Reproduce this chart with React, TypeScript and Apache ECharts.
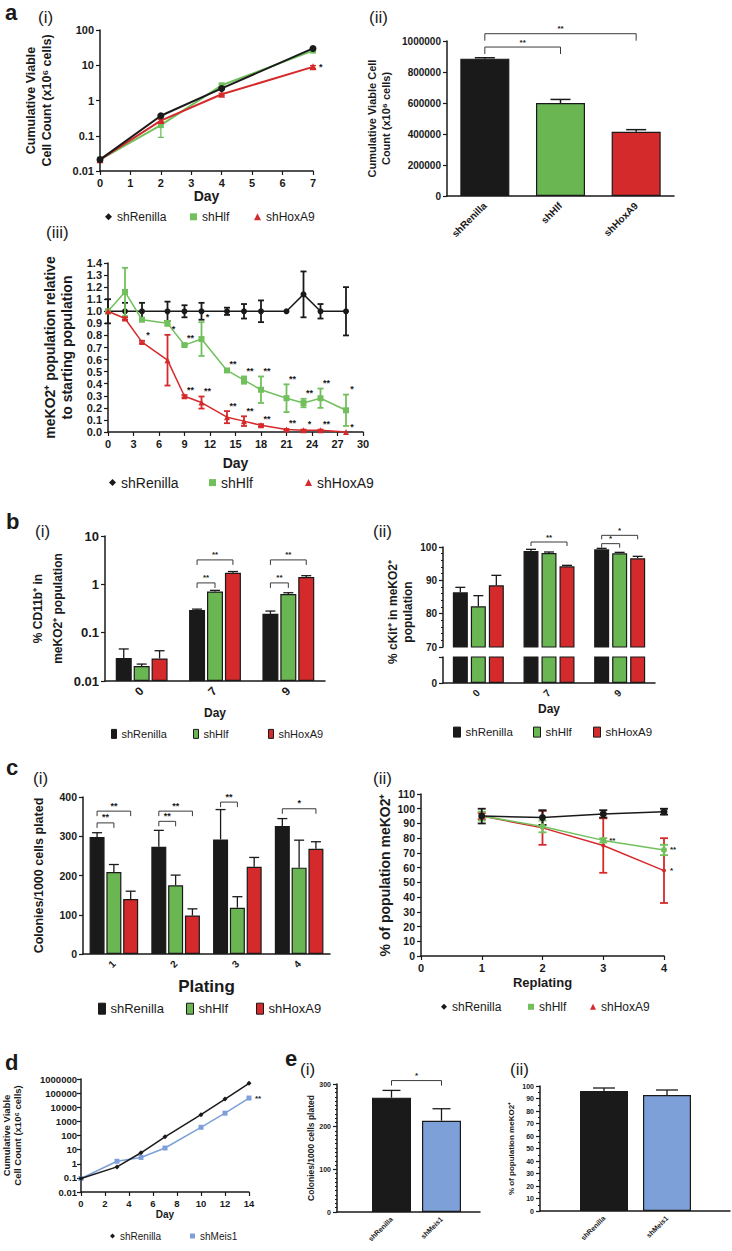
import React, { useEffect, useRef } from "react";
import * as echarts from "echarts";

const FONT = '"Liberation Sans", Arial, Helvetica, sans-serif';
const INK = "#1a1a1a";
const GREEN = "#6ab653";
const LGREEN = "#72c05d";
const RED = "#d52a2c";
const BLUE = "#7ea0d8";

// ---------- a(i) ----------
const aiDays = [0, 2, 4, 7];
const aiRenilla = [0.021, 0.37, 2.2, 30];
const aiRenillaErr = [0, 0.02, 0.1, 1.5];
const aiHlf = [0.021, 0.2, 2.7, 26];
const aiHlfErr = [0, 0.11, 0.3, 1.5];
const aiHoxA9 = [0.021, 0.27, 1.5, 9];
const aiHoxA9Err = [0, 0.02, 0.1, 0.8];
const aiHoxA9Stars = ["", "", "", "*"];

// ---------- a(ii) ----------
const aiiGroups = ["shRenilla", "shHlf", "shHoxA9"];
const aiiValues = [886000, 600000, 415000];
const aiiErr = [6000, 23000, 13000];
const aiiBrackets: any[] = [
  [0, 0, 1, 0, 961000, "**"],
  [0, 0, 2, 0, 1047000, "**"],
];

// ---------- a(iii) ----------
const aiiiDays = [0, 2, 4, 7, 9, 11, 14, 16, 18, 21, 23, 25, 28];
const aiiiRenilla = [1, 1, 1, 1, 1, 1, 1, 1, 1, 1, 1.14, 1, 1];
const aiiiRenillaErr = [0.1, 0.07, 0.07, 0.08, 0.05, 0.07, 0.03, 0.06, 0.09, 0, 0.19, 0.06, 0.2];
const aiiiHlf = [1, 1.16, 0.93, 0.9, 0.72, 0.77, 0.51, 0.43, 0.35, 0.28, 0.24, 0.28, 0.18];
const aiiiHlfErr = [0, 0.2, 0.01, 0.02, 0.01, 0.14, 0.01, 0.03, 0.11, 0.115, 0.035, 0.08, 0.13];
const aiiiHlfStars = ["", "", "", "", "**", "*", "**", "**", "**", "**", "**", "**", "*"];
const aiiiHoxA9 = [1, 0.94, 0.745, 0.595, 0.296, 0.244, 0.123, 0.09, 0.055, 0.02, 0.015, 0.015, 0.0];
const aiiiHoxA9Err = [0, 0.01, 0.01, 0.21, 0.01, 0.05, 0.05, 0.04, 0.01, 0.005, 0.005, 0.005, 0];
const aiiiHoxA9Stars = ["", "", "*", "*", "**", "**", "**", "**", "**", "**", "*", "**", "*"];

// ---------- b(i) ----------
const biDays = ["0", "7", "9"];
const biRenilla = [0.03, 0.295, 0.245];
const biRenillaErr = [0.016, 0.012, 0.035];
const biHlf = [0.0204, 0.71, 0.63];
const biHlfErr = [0.002, 0.04, 0.04];
const biHoxA9 = [0.0293, 1.74, 1.41];
const biHoxA9Err = [0.013, 0.1, 0.1];
const biBrackets: any[] = [
  [1, 0, 1, 1, 1.07, "**"],
  [1, 0, 1, 2, 3.2, "**"],
  [2, 0, 2, 1, 1.07, "**"],
  [2, 0, 2, 2, 3.2, "**"],
];

// ---------- b(ii) ----------
const biiDays = ["0", "7", "9"];
const biiRenilla = [86.4, 98.8, 99.3];
const biiRenillaErr = [1.5, 0.5, 0.3];
const biiHlf = [82.2, 98.2, 98.1];
const biiHlfErr = [3.2, 0.3, 0.3];
const biiHoxA9 = [88.5, 94.2, 96.6];
const biiHoxA9Err = [3, 0.3, 0.6];
const biiBrackets: any[] = [
  [1, 0, 1, 2, 101.5, "**"],
  [2, 0, 2, 1, 101, "*"],
  [2, 0, 2, 2, 103.5, "*"],
];

// ---------- c(i) ----------
const ciPlating = ["1", "2", "3", "4"];
const ciRenilla = [298, 273, 292, 326];
const ciRenillaErr = [11, 42, 76, 19];
const ciHlf = [209, 175, 118, 220];
const ciHlfErr = [19, 26, 28, 70];
const ciHoxA9 = [140, 98, 222, 268];
const ciHoxA9Err = [20, 17, 24, 18];
const ciBrackets: any[] = [
  [0, 0, 0, 1, 334, "**"],
  [0, 0, 0, 2, 364, "**"],
  [1, 0, 1, 1, 338, "**"],
  [1, 0, 1, 2, 364, "**"],
  [2, 0, 2, 1, 387, "**"],
  [3, 0, 3, 2, 370, "*"],
];

// ---------- c(ii) ----------
const ciiReplating = [1, 2, 3, 4];
const ciiRenilla = [95, 94, 96.5, 98];
const ciiRenillaErr = [5, 5, 2.5, 2];
const ciiHlf = [95, 88, 78.5, 72];
const ciiHlfErr = [3, 4, 1.5, 3.5];
const ciiHlfStars = ["", "", "**", "**"];
const ciiHoxA9 = [95, 87, 75, 58];
const ciiHoxA9Err = [2, 11.5, 18.5, 22];
const ciiHoxA9Stars = ["", "", "", "*"];

// ---------- d ----------
const dDays = [0, 3, 5, 7, 10, 12, 14];
const dRenilla = [0.09, 0.6, 6, 80, 3000, 38000, 500000];
const dMeis1 = [0.09, 1.5, 2.8, 13, 380, 3800, 45000];
const dMeis1Stars = ["", "", "", "", "", "", "**"];

// ---------- e ----------
const eGroups = ["shRenilla", "shMeis1"];
const eiValues = [268, 214];
const eiErr = [17, 28];
const eiBrackets: any[] = [[0, 0, 1, 0, 308, "*"]];
const eiiValues = [96, 92.8];
const eiiErr = [2.4, 4];

// ---------------- helpers ----------------
function merge(a: any, b: any): any {
  const out: any = { ...a };
  for (const k of Object.keys(b)) {
    const v = b[k];
    if (v && typeof v === "object" && !Array.isArray(v) && a[k] && typeof a[k] === "object" && !Array.isArray(a[k])) {
      out[k] = merge(a[k], v);
    } else out[k] = v;
  }
  return out;
}
const axis = (grid: number, o: any) =>
  merge(
    {
      gridIndex: grid,
      axisLine: { show: true, lineStyle: { color: INK, width: 1.5 } },
      axisTick: { show: true, length: 4, lineStyle: { color: INK, width: 1.2 } },
      axisLabel: { fontFamily: FONT, fontWeight: "bold", fontSize: 10, color: INK, margin: 6 },
      splitLine: { show: false },
      nameLocation: "middle",
      nameTextStyle: { fontFamily: FONT, fontWeight: "bold", fontSize: 12, color: INK },
    },
    o
  );
const fmtNum = (v: number) => String(Number(Number(v).toPrecision(6)));
const offs = (n: number, bw: number, gap: number) =>
  Array.from({ length: n }, (_, i) => (i - (n - 1) / 2) * bw * (1 + gap));

const line = (name: string, grid: number, xs: number[], ys: number[], color: string, symbol: string, size: number, width: number, z = 3) => ({
  type: "line",
  name,
  xAxisIndex: grid,
  yAxisIndex: grid,
  data: xs.map((x, i) => [x, ys[i]]),
  symbol,
  symbolSize: size,
  showSymbol: true,
  clip: false,
  z,
  lineStyle: { color, width },
  itemStyle: { color, borderWidth: 0 },
  emphasis: { disabled: true },
});

const bar = (name: string, grid: number, vals: any[], color: string, bw: number, gap: number) => ({
  type: "bar",
  name,
  xAxisIndex: grid,
  yAxisIndex: grid,
  data: vals,
  barWidth: bw,
  barGap: `${gap * 100}%`,
  clip: true,
  itemStyle: { color, borderColor: INK, borderWidth: 1.2 },
  emphasis: { disabled: true },
});

const err = (grid: number, xs: number[], ys: number[], es: number[], color: string, o: any = {}) => ({
  type: "custom",
  xAxisIndex: grid,
  yAxisIndex: grid,
  silent: true,
  clip: false,
  z: o.z ?? 4,
  data: xs.map((x, i) => [x, ys[i]]),
  renderItem: (params: any, api: any) => {
    const i = params.dataIndex;
    const x = xs[i], y = ys[i], e = es[i];
    if (!e) return null;
    const p = api.coord([x, y]);
    const hi = api.coord([x, y + e]);
    const lo = o.both ? api.coord([x, y - e > 0 ? y - e : y * 0.5]) : p;
    const px = p[0] + (o.off ?? 0);
    const cap = o.cap ?? 3;
    const w = o.w ?? 1.3;
    const st = { stroke: color, lineWidth: w };
    const ch: any[] = [
      { type: "line", shape: { x1: px, y1: lo[1], x2: px, y2: hi[1] }, style: st },
      { type: "line", shape: { x1: px - cap, y1: hi[1], x2: px + cap, y2: hi[1] }, style: st },
    ];
    if (o.both) ch.push({ type: "line", shape: { x1: px - cap, y1: lo[1], x2: px + cap, y2: lo[1] }, style: st });
    return { type: "group", children: ch };
  },
});

const brackets = (grid: number, items: any[], off: number[], tick: number, size: number) => ({
  type: "custom",
  xAxisIndex: grid,
  yAxisIndex: grid,
  silent: true,
  clip: false,
  z: 6,
  data: items.map((b) => [b[0], b[4]]),
  renderItem: (params: any, api: any) => {
    const b = items[params.dataIndex];
    const p1 = api.coord([b[0], b[4]]);
    const p2 = api.coord([b[2], b[4]]);
    const x1 = p1[0] + off[b[1]];
    const x2 = p2[0] + off[b[3]];
    const y = p1[1];
    return {
      type: "group",
      children: [
        { type: "polyline", shape: { points: [[x1, y + tick], [x1, y], [x2, y], [x2, y + tick]] }, style: { stroke: "#3a3a3a", lineWidth: 1, fill: null } },
        { type: "text", x: (x1 + x2) / 2, y: y - 1, style: { text: b[5], fill: INK, font: `bold ${size}px ${FONT}`, align: "center", verticalAlign: "bottom" } },
      ],
    };
  },
});

const stars = (grid: number, xs: number[], ys: number[], es: number[] | null, labels: string[], mode: string, size: number, dx = 0) => ({
  type: "custom",
  xAxisIndex: grid,
  yAxisIndex: grid,
  silent: true,
  clip: false,
  z: 8,
  data: xs.map((x, i) => [x, ys[i]]),
  renderItem: (params: any, api: any) => {
    const i = params.dataIndex;
    const t = labels[i];
    if (!t) return null;
    const e = es ? es[i] : 0;
    const top = mode === "top";
    const p = api.coord([xs[i], ys[i] + (top ? e : 0)]);
    return {
      type: "text",
      x: p[0] + (top ? 4 + dx : 6 + dx),
      y: p[1] + (top ? -1 : 0),
      style: { text: t, fill: INK, font: `bold ${size}px ${FONT}`, align: top ? "center" : "left", verticalAlign: top ? "bottom" : "middle" },
    };
  },
});

const legendItem = (name: string, icon: string, left: number, cy: number, size: number, iw: number, ih: number) => ({
  show: true,
  left,
  top: cy - Math.max(ih, size * 1.2) / 2,
  padding: 0,
  itemWidth: iw,
  itemHeight: ih,
  symbolKeepAspect: false,
  selectedMode: false,
  itemStyle: { borderWidth: 1 },
  data: [{ name, icon }],
  formatter: (n: string) => n.split("|")[0],
  textStyle: { fontFamily: FONT, fontSize: size, color: INK },
});

const T = (text: string, x: number, y: number, size: number, weight = "normal") => ({
  type: "text",
  x,
  y,
  style: { text, font: `${weight} ${size}px ${FONT}`, fill: INK, verticalAlign: "middle" },
});

function buildOption(): any {
  const grids = [
    { left: 100, top: 30, width: 213, height: 141 },
    { left: 447, top: 41, width: 227, height: 155 },
    { left: 108, top: 263, width: 255, height: 169 },
    { left: 105, top: 536, width: 220, height: 145 },
    { left: 443, top: 547, width: 212, height: 100 },
    { left: 443, top: 657, width: 212, height: 26 },
    { left: 83, top: 797, width: 247, height: 157 },
    { left: 421, top: 794, width: 243, height: 162 },
    { left: 81, top: 1079, width: 168, height: 113 },
    { left: 337, top: 1084, width: 143, height: 128 },
    { left: 366.5, top: 1084, width: 100, height: 128 },
    { left: 540, top: 1086, width: 190, height: 125 },
    { left: 572.5, top: 1086, width: 126, height: 125 },
  ];

  const noTick = { axisTick: { show: false } };
  const xAxis = [
    axis(0, { type: "value", min: 0, max: 7, interval: 1, axisLabel: { fontSize: 11 }, name: "Day", nameGap: 16, nameTextStyle: { fontSize: 14 } }),
    axis(1, { type: "category", data: aiiGroups, ...noTick, axisLabel: { rotate: 45, fontSize: 10, margin: 8 } }),
    axis(2, { type: "value", min: 0, max: 30, interval: 3, axisLabel: { fontSize: 11 }, name: "Day", nameGap: 24, nameTextStyle: { fontSize: 14 } }),
    axis(3, { type: "category", data: biDays, ...noTick, axisLabel: { rotate: 45, fontSize: 12, margin: 8 }, name: "Day", nameGap: 26, nameTextStyle: { fontSize: 12 } }),
    axis(4, { type: "category", data: biiDays, axisLine: { show: false }, ...noTick, axisLabel: { show: false } }),
    axis(5, { type: "category", data: biiDays, ...noTick, axisLabel: { rotate: 45, fontSize: 10, margin: 8 }, name: "Day", nameGap: 20, nameTextStyle: { fontSize: 12 } }),
    axis(6, { type: "category", data: ciPlating, ...noTick, axisLabel: { rotate: 45, fontSize: 10, margin: 8 }, name: "Plating", nameGap: 24, nameTextStyle: { fontSize: 17 } }),
    axis(7, { type: "value", min: 0, max: 4, interval: 1, axisLabel: { fontSize: 11 }, name: "Replating", nameGap: 20, nameTextStyle: { fontSize: 13 } }),
    axis(8, { type: "value", min: 0, max: 14, interval: 2, axisLabel: { fontSize: 9.5 }, name: "Day", nameGap: 17, nameTextStyle: { fontSize: 10 } }),
    axis(9, { type: "value", min: 0, max: 1, ...noTick, axisLabel: { show: false } }),
    axis(10, { type: "category", data: eGroups, axisLine: { show: false }, ...noTick, axisLabel: { rotate: 45, fontSize: 7, margin: 6 } }),
    axis(11, { type: "value", min: 0, max: 1, ...noTick, axisLabel: { show: false } }),
    axis(12, { type: "category", data: eGroups, axisLine: { show: false }, ...noTick, axisLabel: { rotate: 45, fontSize: 7, margin: 6 } }),
  ];

  const yAxis = [
    axis(0, { type: "log", logBase: 10, min: 0.01, max: 100, splitNumber: 10, axisLabel: { fontSize: 11, formatter: fmtNum }, name: "Cumulative Viable\nCell Count (x10⁶ cells)", nameRotate: 90, nameGap: 45, nameTextStyle: { fontSize: 12.5, lineHeight: 16 } }),
    axis(1, { type: "value", min: 0, max: 1000000, interval: 200000, axisLabel: { fontSize: 10, formatter: fmtNum }, name: "Cumulative Viable Cell\nCount (x10⁶ cells)", nameRotate: 90, nameGap: 54, nameTextStyle: { fontSize: 11, lineHeight: 14 } }),
    axis(2, { type: "value", min: 0, max: 1.4, interval: 0.1, axisLabel: { fontSize: 11, formatter: (v: number) => v.toFixed(1) }, name: "meKO2⁺ population relative\nto starting population", nameRotate: 90, nameGap: 33, nameTextStyle: { fontSize: 14, lineHeight: 17 } }),
    axis(3, { type: "log", logBase: 10, min: 0.01, max: 10, startValue: 0.01, splitNumber: 10, axisLabel: { fontSize: 13, formatter: fmtNum }, name: "% CD11b⁺ in\nmeKO2⁺ population", nameRotate: 90, nameGap: 37, nameTextStyle: { fontSize: 12, lineHeight: 20 } }),
    axis(4, { type: "value", min: 70, max: 100, interval: 10, axisLabel: { fontSize: 10 }, minorTick: { show: true, splitNumber: 5, length: 2, lineStyle: { color: INK } } }),
    axis(5, { type: "value", min: 0, max: 60, interval: 60, axisLabel: { fontSize: 10, formatter: (v: number) => (v === 0 ? "0" : "") } }),
    axis(6, { type: "value", min: 0, max: 400, interval: 100, axisLabel: { fontSize: 10.5 }, name: "Colonies/1000 cells plated", nameRotate: 90, nameGap: 38, nameTextStyle: { fontSize: 12.5 } }),
    axis(7, { type: "value", min: 0, max: 110, interval: 10, axisLabel: { fontSize: 10.5 }, name: "% of population meKO2⁺", nameRotate: 90, nameGap: 29, nameTextStyle: { fontSize: 14 } }),
    axis(8, { type: "log", logBase: 10, min: 0.01, max: 1000000, splitNumber: 10, axisLabel: { fontSize: 9.5, formatter: fmtNum, margin: 4 }, name: "Cumulative Viable\nCell Count (x10⁶ cells)", nameRotate: 90, nameGap: 58, nameTextStyle: { fontSize: 9.5, lineHeight: 11 } }),
    axis(9, { type: "value", min: 0, max: 300, interval: 100, axisLabel: { fontSize: 7 }, minorTick: { show: true, splitNumber: 10, length: 2, lineStyle: { color: INK } }, name: "Colonies/1000 cells plated", nameRotate: 90, nameGap: 19, nameTextStyle: { fontSize: 8.5 } }),
    axis(10, { type: "value", min: 0, max: 300, show: false }),
    axis(11, { type: "value", min: 0, max: 100, interval: 10, axisLabel: { fontSize: 7 }, minorTick: { show: true, splitNumber: 2, length: 2, lineStyle: { color: INK } }, name: "% of population meKO2⁺", nameRotate: 90, nameGap: 25, nameTextStyle: { fontSize: 8 } }),
    axis(12, { type: "value", min: 0, max: 100, show: false }),
  ];

  const cat3 = [0, 1, 2];
  const cat4 = [0, 1, 2, 3];
  const cat2 = [0, 1];
  const oBi = offs(3, 16, 0.12);
  const oBii = offs(3, 15, 0.2);
  const oCi = offs(3, 15, 0.12);

  const series: any[] = [
    // a(i)
    line("shHlf|ai", 0, aiDays, aiHlf, LGREEN, "rect", 6, 2, 3),
    line("shHoxA9|ai", 0, aiDays, aiHoxA9, RED, "triangle", 7, 2, 4),
    line("shRenilla|ai", 0, aiDays, aiRenilla, INK, "circle", 7, 2, 5),
    err(0, aiDays, aiHlf, aiHlfErr, LGREEN, { both: true, cap: 3 }),
    err(0, aiDays, aiRenilla, aiRenillaErr, INK, { both: true, cap: 3 }),
    err(0, aiDays, aiHoxA9, aiHoxA9Err, RED, { both: true, cap: 3 }),
    stars(0, aiDays, aiHoxA9, null, aiHoxA9Stars, "right", 9),

    // a(ii)
    bar("a2", 1, aiiValues.map((v, i) => ({ value: v, itemStyle: { color: [INK, GREEN, RED][i] } })), INK, 49, 0.1),
    err(1, cat3, aiiValues, aiiErr, INK, { cap: 10, w: 1.5 }),
    brackets(1, aiiBrackets, [0], 7, 8),

    // a(iii)
    line("shRenilla|aiii", 2, aiiiDays, aiiiRenilla, INK, "circle", 6, 1.5, 3),
    line("shHlf|aiii", 2, aiiiDays, aiiiHlf, LGREEN, "rect", 6, 1.5, 4),
    line("shHoxA9|aiii", 2, aiiiDays, aiiiHoxA9, RED, "triangle", 6, 1.5, 5),
    err(2, aiiiDays, aiiiRenilla, aiiiRenillaErr, INK, { both: true, cap: 3, w: 1.8 }),
    err(2, aiiiDays, aiiiHlf, aiiiHlfErr, LGREEN, { both: true, cap: 3, w: 1.8 }),
    err(2, aiiiDays, aiiiHoxA9, aiiiHoxA9Err, RED, { both: true, cap: 3, w: 1.8 }),
    stars(2, aiiiDays, aiiiHlf, aiiiHlfErr, aiiiHlfStars, "top", 9, 2),
    stars(2, aiiiDays, aiiiHoxA9, aiiiHoxA9Err, aiiiHoxA9Stars, "top", 9, 2),

    // b(i)
    bar("shRenilla|bi", 3, biRenilla, INK, 16, 0.12),
    bar("shHlf|bi", 3, biHlf, GREEN, 16, 0.12),
    bar("shHoxA9|bi", 3, biHoxA9, RED, 16, 0.12),
    err(3, cat3, biRenilla, biRenillaErr, INK, { off: oBi[0], cap: 5 }),
    err(3, cat3, biHlf, biHlfErr, INK, { off: oBi[1], cap: 5 }),
    err(3, cat3, biHoxA9, biHoxA9Err, INK, { off: oBi[2], cap: 5 }),
    brackets(3, biBrackets, oBi, 5, 8),

    // b(ii) upper
    bar("shRenilla|bii", 4, biiRenilla, INK, 15, 0.2),
    bar("shHlf|bii", 4, biiHlf, GREEN, 15, 0.2),
    bar("shHoxA9|bii", 4, biiHoxA9, RED, 15, 0.2),
    err(4, cat3, biiRenilla, biiRenillaErr, INK, { off: oBii[0], cap: 5 }),
    err(4, cat3, biiHlf, biiHlfErr, INK, { off: oBii[1], cap: 5 }),
    err(4, cat3, biiHoxA9, biiHoxA9Err, INK, { off: oBii[2], cap: 5 }),
    brackets(4, biiBrackets, oBii, 4, 8),
    // b(ii) lower
    bar("shRenilla|bii2", 5, biiRenilla, INK, 15, 0.2),
    bar("shHlf|bii2", 5, biiHlf, GREEN, 15, 0.2),
    bar("shHoxA9|bii2", 5, biiHoxA9, RED, 15, 0.2),

    // c(i)
    bar("shRenilla|ci", 6, ciRenilla, INK, 15, 0.12),
    bar("shHlf|ci", 6, ciHlf, GREEN, 15, 0.12),
    bar("shHoxA9|ci", 6, ciHoxA9, RED, 15, 0.12),
    err(6, cat4, ciRenilla, ciRenillaErr, INK, { off: oCi[0], cap: 5 }),
    err(6, cat4, ciHlf, ciHlfErr, INK, { off: oCi[1], cap: 5 }),
    err(6, cat4, ciHoxA9, ciHoxA9Err, INK, { off: oCi[2], cap: 5 }),
    brackets(6, ciBrackets, oCi, 5, 9),

    // c(ii)
    line("shRenilla|cii", 7, ciiReplating, ciiRenilla, INK, "circle", 7, 1.5, 5),
    line("shHlf|cii", 7, ciiReplating, ciiHlf, LGREEN, "circle", 6, 1.5, 4),
    line("shHoxA9|cii", 7, ciiReplating, ciiHoxA9, RED, "circle", 4, 1.5, 3),
    err(7, ciiReplating, ciiHoxA9, ciiHoxA9Err, RED, { both: true, cap: 4, w: 1.8 }),
    err(7, ciiReplating, ciiHlf, ciiHlfErr, LGREEN, { both: true, cap: 4, w: 1.8 }),
    err(7, ciiReplating, ciiRenilla, ciiRenillaErr, INK, { both: true, cap: 4, w: 1.8 }),
    stars(7, ciiReplating, ciiHlf, null, ciiHlfStars, "right", 8),
    stars(7, ciiReplating, ciiHoxA9, null, ciiHoxA9Stars, "right", 8),

    // d
    line("shRenilla|d", 8, dDays, dRenilla, INK, "diamond", 5, 1.5, 4),
    line("shMeis1|d", 8, dDays, dMeis1, BLUE, "rect", 5, 1.5, 3),
    stars(8, dDays, dMeis1, null, dMeis1Stars, "right", 8),

    // e(i)
    bar("e1", 10, eiValues.map((v, i) => ({ value: v, itemStyle: { color: [INK, BLUE][i] } })), INK, 39, 0.1),
    err(10, cat2, eiValues, eiErr, INK, { cap: 9, w: 1.3 }),
    brackets(10, eiBrackets, [0], 5, 8),

    // e(ii)
    bar("e2", 12, eiiValues.map((v, i) => ({ value: v, itemStyle: { color: [INK, BLUE][i] } })), INK, 48, 0.1),
    err(12, cat2, eiiValues, eiiErr, INK, { cap: 11, w: 1.3 }),
  ];

  const legend = [
    legendItem("shRenilla|ai", "diamond", 105, 218, 12, 7, 7),
    legendItem("shHlf|ai", "rect", 190, 218, 12, 7, 7),
    legendItem("shHoxA9|ai", "triangle", 254, 218, 12, 7, 7),
    legendItem("shRenilla|aiii", "diamond", 109, 484, 14, 7, 7),
    legendItem("shHlf|aiii", "rect", 209, 484, 14, 7, 7),
    legendItem("shHoxA9|aiii", "triangle", 305, 484, 14, 7, 7),
    legendItem("shRenilla|bi", "rect", 111, 735, 11, 5, 9),
    legendItem("shHlf|bi", "rect", 193, 735, 11, 5, 9),
    legendItem("shHoxA9|bi", "rect", 268, 735, 11, 5, 9),
    legendItem("shRenilla|bii", "rect", 453, 733, 11.5, 7, 10),
    legendItem("shHlf|bii", "rect", 533, 733, 11.5, 7, 10),
    legendItem("shHoxA9|bii", "rect", 593, 733, 11.5, 7, 10),
    legendItem("shRenilla|ci", "rect", 98, 1010, 13, 7, 11),
    legendItem("shHlf|ci", "rect", 186, 1010, 13, 7, 11),
    legendItem("shHoxA9|ci", "rect", 256, 1010, 13, 7, 11),
    legendItem("shRenilla|cii", "diamond", 441, 1008, 12, 6, 6),
    legendItem("shHlf|cii", "rect", 528, 1008, 12, 6, 6),
    legendItem("shHoxA9|cii", "triangle", 590, 1008, 12, 6, 6),
    legendItem("shRenilla|d", "diamond", 110, 1237, 10, 5, 5),
    legendItem("shMeis1|d", "rect", 190, 1237, 10, 5, 5),
  ];

  const graphic = [
    T("a", 5, 12, 22, "bold"),
    T("(i)", 38, 17, 17),
    T("(ii)", 369, 17, 17),
    T("(iii)", 46, 232, 17),
    T("b", 6, 521, 22, "bold"),
    T("(i)", 35, 531, 17),
    T("(ii)", 373, 531, 17),
    T("c", 6, 767, 22, "bold"),
    T("(i)", 33, 778, 17),
    T("(ii)", 373, 778, 17),
    T("d", 5, 1062, 22, "bold"),
    T("e", 285, 1058, 22, "bold"),
    T("(i)", 300, 1069, 17),
    T("(ii)", 510, 1069, 17),
    {
      type: "text",
      x: 400,
      y: 612,
      rotation: Math.PI / 2,
      style: { text: "% cKit⁺ in meKO2⁺\npopulation", font: `bold 12px ${FONT}`, fill: INK, align: "center", verticalAlign: "middle", lineHeight: 15 },
    },
  ];

  return {
    animation: false,
    backgroundColor: "#ffffff",
    textStyle: { fontFamily: FONT },
    grid: grids,
    xAxis,
    yAxis,
    series,
    legend,
    graphic,
  };
}

export default function App() {
  const ref = useRef<HTMLDivElement>(null);
  useEffect(() => {
    if (!ref.current) return;
    const chart = echarts.init(ref.current, null, { renderer: "svg" });
    chart.setOption(buildOption());
    return () => chart.dispose();
  }, []);
  return <div ref={ref} style={{ position: "absolute", left: 0, top: 0, width: 732, height: 1251, background: "#fff" }} />;
}
